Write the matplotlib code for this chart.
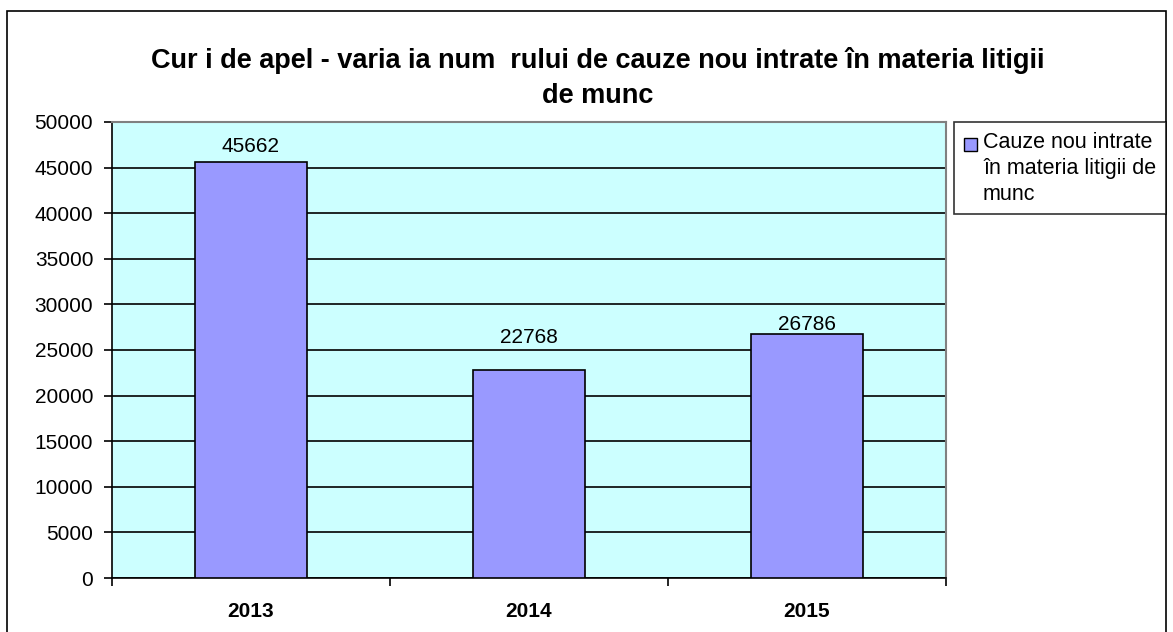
import matplotlib
matplotlib.use("Agg")
import matplotlib.pyplot as plt
from matplotlib.patches import Rectangle
from matplotlib.legend_handler import HandlerBase

years = ["2013", "2014", "2015"]
values = [45662, 22768, 26786]
series_name = "Cauze nou intrate\nîn materia litigii de\nmunc"
title = "Cur i de apel - varia ia num  rului de cauze nou intrate în materia litigii\nde munc"
yticks = list(range(0, 50001, 5000))

# label gaps above bars (points), as placed in the original
label_gaps = [7.2, 19.4, 2.9]

plt.rcParams['font.family'] = ['Liberation Sans', 'DejaVu Sans']

W, H = 1173, 632
fig = plt.figure(figsize=(W/100, H/100), dpi=100)
ax = fig.add_axes([112/W, 1 - 578/H, (946-112)/W, (578-122)/H])

# outer frame
fig.patches.append(Rectangle((7/W, -0.01), (1166-7)/W, 1 - 11/H + 0.01, transform=fig.transFigure,
                             fill=False, edgecolor='black', linewidth=1.2))

ax.set_facecolor('#CCFFFF')
x = range(len(years))
bars = ax.bar(x, values, width=0.4, color='#9999FF', edgecolor='black', linewidth=1.2, zorder=3,
              label=series_name)
ax.set_xlim(-0.5, len(years) - 0.5)
ax.set_ylim(0, 50000)
ax.set_yticks(yticks)
ax.set_yticklabels([str(v) for v in yticks], fontsize=15)
ax.yaxis.grid(True, color='black', linewidth=1.2, zorder=1)
ax.set_axisbelow(True)

ax.set_xticks(list(x))
ax.set_xticklabels(years, fontsize=15, fontweight='bold')
ax.tick_params(axis='x', which='major', length=0, pad=17)
ax.set_xticks([i + 0.5 for i in range(-1, len(years))], minor=True)
ax.tick_params(axis='x', which='minor', length=6, direction='out', width=1.2)
ax.tick_params(axis='y', length=6, direction='out', width=1.2, pad=7.5)

for s in ['top', 'right']:
    ax.spines[s].set_color('#808080')
    ax.spines[s].set_linewidth(1.5)
for s in ['left', 'bottom']:
    ax.spines[s].set_color('black')
    ax.spines[s].set_linewidth(1.2)

for b, v, g in zip(bars, values, label_gaps):
    ax.annotate(str(v), (b.get_x() + b.get_width()/2, v), xytext=(0, g), textcoords='offset points',
                ha='center', va='baseline', fontsize=15)

fig.text(598/W, 1 - 103/H, title, ha='center', va='baseline', fontsize=19.5, fontweight='bold',
         linespacing=1.44)


class TopSquare(HandlerBase):
    def create_artists(self, legend, orig_handle, xdescent, ydescent, width, height, fontsize, trans):
        s = 0.62 * fontsize
        r = Rectangle((-xdescent, 1.15 * fontsize), s, s,
                      facecolor=orig_handle.get_facecolor(), edgecolor='black', linewidth=1.0,
                      transform=trans)
        return [r]


leg = fig.legend(handles=[bars.patches[0]], labels=[series_name], loc='upper left',
                 bbox_to_anchor=(954/W, 1 - 122/H), fontsize=15.5,
                 frameon=True, fancybox=False, edgecolor='black', handlelength=0.65, handleheight=0.7,
                 handletextpad=0.24, borderpad=0.46, borderaxespad=0,
                 handler_map={type(bars.patches[0]): TopSquare()})
leg.get_frame().set_linewidth(1.2)
for t in leg.get_texts():
    t.set_linespacing(1.3)

fig.savefig("out.png", dpi=100)
